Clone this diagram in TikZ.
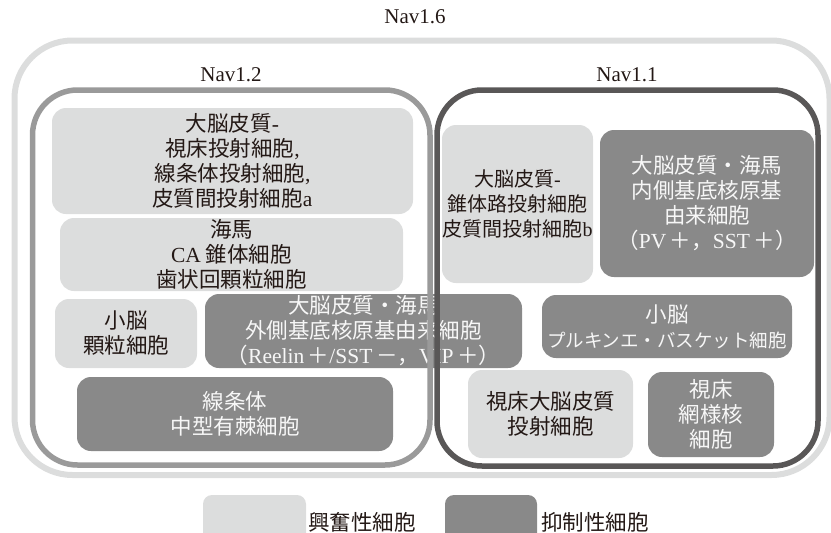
\documentclass[tikz,border=0pt]{standalone}
\usepackage{fontspec}
\setmainfont{Noto Sans CJK JP}
\newfontfamily\lat{Liberation Serif}
\definecolor{lightfill}{HTML}{DCDDDD}
\definecolor{darkfill}{HTML}{898989}
\definecolor{outerline}{HTML}{DCDDDD}
\definecolor{midline}{HTML}{9A9A9A}
\definecolor{darkline}{HTML}{595757}
\definecolor{inktext}{HTML}{231815}
\definecolor{whitetext}{HTML}{F7F7F7}
\tikzset{
  cellbox/.style={rectangle, rounded corners=14pt, inner sep=0pt, align=center,
    font=\fontsize{21.5}{25}\selectfont},
  lbox/.style={cellbox, fill=lightfill, text=inktext},
  dbox/.style={cellbox, fill=darkfill, text=whitetext},
  frame/.style={rectangle, inner sep=0pt, fill=none},
  navlabel/.style={font=\lat\fontsize{21}{24}\selectfont, text=inktext, inner sep=0pt},
  legtext/.style={font=\fontsize{21.5}{24}\selectfont, text=inktext, inner sep=0pt, anchor=west}
}
\begin{document}
\begin{tikzpicture}[x=1pt,y=-1pt]
\useasboundingbox (0,0) rectangle (831,533);
% outer Nav1.6 frame
\node[frame, draw=outerline, line width=6pt, rounded corners=58pt,
  minimum width=815pt, minimum height=434.5pt] (nav16) at (422,257.75) {};
\node[navlabel] (l16) at (415,17) {Nav1.6};
\node[navlabel] (l12) at (231,75) {Nav1.2};
\node[navlabel] (l11) at (627,75) {Nav1.1};
% cell boxes
\node[lbox, minimum width=361pt, minimum height=106pt] (b1) at (232.5,161)
  {大脳皮質{\lat -}\\視床投射細胞{\lat ,}\\線条体投射細胞{\lat ,}\\皮質間投射細胞{\lat a}};
\node[lbox, minimum width=343pt, minimum height=73pt] (b2) at (231.5,254.5)
  {海馬\\{\lat CA} 錐体細胞\\歯状回顆粒細胞};
\node[lbox, minimum width=142pt, minimum height=69pt] (b3) at (126,333.5)
  {小脳\\顆粒細胞};
\node[dbox, minimum width=317pt, minimum height=74pt] (b4) at (363.5,331)
  {大脳皮質・海馬\\外側基底核原基由来細胞\\（{\lat Reelin}\,＋{\lat /SST}\,－，{\lat VIP}\,＋）};
\node[dbox, minimum width=316pt, minimum height=74pt] (b5) at (235,414)
  {線条体\\中型有棘細胞};
\node[lbox, minimum width=151pt, minimum height=158pt,
  font=\fontsize{20}{25}\selectfont] (b6) at (517.5,204)
  {大脳皮質{\lat -}\\錐体路投射細胞\\皮質間投射細胞{\lat b}};
\node[dbox, minimum width=214pt, minimum height=147pt] (b7) at (707,203.5)
  {大脳皮質・海馬\\内側基底核原基\\由来細胞\\（{\lat PV}\,＋，{\lat SST}\,＋）};
\node[dbox, minimum width=250pt, minimum height=63pt] (b8) at (667,326.5)
  {小脳\\{\fontsize{18.5}{25}\selectfont プルキンエ・バスケット細胞}};
\node[lbox, minimum width=165pt, minimum height=88pt] (b9) at (550.5,414)
  {視床大脳皮質\\投射細胞};
\node[dbox, minimum width=126pt, minimum height=85pt] (b10) at (711,414.5)
  {視床\\網様核\\細胞};
% Nav1.2 and Nav1.1 frames (drawn over the boxes)
\node[frame, draw=midline, line width=5.5pt, rounded corners=45pt,
  minimum width=397.5pt, minimum height=375pt] (nav12) at (231.25,277.5) {};
\node[frame, draw=darkline, line width=5.5pt, rounded corners=45pt,
  minimum width=381pt, minimum height=376pt] (nav11) at (627.5,278) {};
% legend
\node[rectangle, rounded corners=9pt, fill=lightfill, inner sep=0pt,
  minimum width=103pt, minimum height=60pt] (legl) at (254.5,525) {};
\node[legtext] (legltext) at (308,522) {興奮性細胞};
\node[rectangle, rounded corners=9pt, fill=darkfill, inner sep=0pt,
  minimum width=92pt, minimum height=60pt] (legd) at (491,525) {};
\node[legtext] (legdtext) at (541,522) {抑制性細胞};
\end{tikzpicture}
\end{document}
